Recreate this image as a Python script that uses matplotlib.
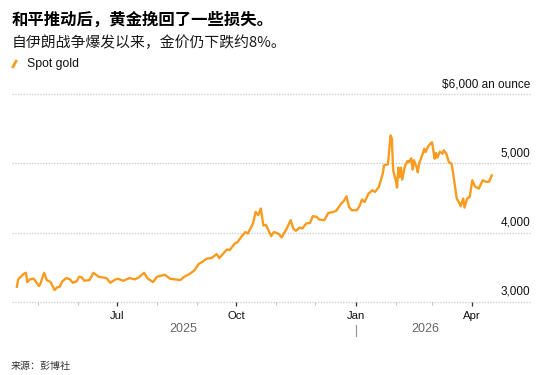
import matplotlib
matplotlib.use("Agg")
import matplotlib.pyplot as plt
import matplotlib.dates as mdates
from matplotlib.lines import Line2D
import pandas as pd

# spot gold, $/oz
dates = [
    "2025-04-15", "2025-04-16", "2025-04-20", "2025-04-22", "2025-04-23", "2025-04-25", "2025-04-28",
    "2025-05-02", "2025-05-03", "2025-05-06", "2025-05-08", "2025-05-11", "2025-05-14", "2025-05-16",
    "2025-05-18", "2025-05-20", "2025-05-23", "2025-05-26", "2025-05-28", "2025-05-31",
    "2025-06-02", "2025-06-04", "2025-06-06", "2025-06-10", "2025-06-13", "2025-06-17", "2025-06-23",
    "2025-06-26", "2025-06-30",
    "2025-07-02", "2025-07-06", "2025-07-11", "2025-07-15", "2025-07-18", "2025-07-22", "2025-07-25",
    "2025-07-29",
    "2025-08-01", "2025-08-07", "2025-08-11", "2025-08-15", "2025-08-19", "2025-08-22", "2025-08-26",
    "2025-08-30",
    "2025-09-02", "2025-09-05", "2025-09-08", "2025-09-12", "2025-09-16", "2025-09-18", "2025-09-22",
    "2025-09-24", "2025-09-26", "2025-09-30",
    "2025-10-02", "2025-10-05", "2025-10-08", "2025-10-10", "2025-10-14", "2025-10-16", "2025-10-18",
    "2025-10-20", "2025-10-22", "2025-10-24", "2025-10-27", "2025-10-28", "2025-10-30",
    "2025-11-01", "2025-11-03", "2025-11-05", "2025-11-09", "2025-11-12", "2025-11-14", "2025-11-16",
    "2025-11-19", "2025-11-21", "2025-11-24", "2025-11-27", "2025-11-29",
    "2025-12-02", "2025-12-04", "2025-12-08", "2025-12-11", "2025-12-14", "2025-12-17", "2025-12-21",
    "2025-12-23", "2025-12-25", "2025-12-27", "2025-12-29",
    "2026-01-02", "2026-01-04", "2026-01-06", "2026-01-08", "2026-01-11", "2026-01-14", "2026-01-16",
    "2026-01-19", "2026-01-22", "2026-01-23", "2026-01-26", "2026-01-28", "2026-01-29", "2026-01-30",
    "2026-02-01", "2026-02-02", "2026-02-03", "2026-02-04", "2026-02-05", "2026-02-06", "2026-02-08",
    "2026-02-10", "2026-02-11", "2026-02-13", "2026-02-14", "2026-02-15", "2026-02-17", "2026-02-18",
    "2026-02-19", "2026-02-22", "2026-02-23", "2026-02-24", "2026-02-26", "2026-02-28",
    "2026-03-01", "2026-03-03", "2026-03-04", "2026-03-05", "2026-03-07", "2026-03-09", "2026-03-10",
    "2026-03-12", "2026-03-14", "2026-03-16", "2026-03-18", "2026-03-20", "2026-03-22", "2026-03-23",
    "2026-03-25", "2026-03-26", "2026-03-28", "2026-03-30",
    "2026-04-01", "2026-04-03", "2026-04-06", "2026-04-09", "2026-04-12", "2026-04-14", "2026-04-16",
]
gold = [
    3216, 3323, 3400, 3418, 3284, 3323, 3332,
    3226, 3255, 3418, 3313, 3284, 3169, 3207, 3216, 3294, 3342, 3323, 3274, 3294,
    3361, 3352, 3303, 3313, 3418, 3361, 3342, 3274, 3323,
    3332, 3303, 3342, 3323, 3352, 3418, 3332, 3284,
    3361, 3390, 3332, 3323, 3313, 3361, 3400, 3457,
    3544, 3577, 3620, 3631, 3688, 3631, 3717, 3756, 3746, 3843,
    3861, 3938, 4006, 3987, 4131, 4299, 4251, 4348, 4102, 4111, 3987, 3948, 4006,
    3996, 3977, 3929, 4059, 4179, 4059, 4025, 4073, 4059, 4131, 4140, 4237,
    4227, 4189, 4179, 4284, 4294, 4313, 4420, 4457, 4525, 4371, 4323,
    4323, 4381, 4478, 4443, 4564, 4612, 4588, 4660, 4853, 4973, 4987, 5405, 5358, 4900,
    4756, 4651, 4939, 4804, 4939, 4766, 4958, 5035, 5016, 5074, 4911, 5045, 4948, 4872,
    4997, 5150, 5214, 5164, 5247, 5294,
    5304, 5069, 5150, 5083, 5170, 5141, 5189, 5141, 5016, 4997, 4756, 4492, 4429, 4381,
    4492, 4362, 4492, 4515,
    4756, 4670, 4636, 4756, 4732, 4737, 4828,
]
y_ticks = [3000, 4000, 5000, 6000]
y_labels = ["3,000", "4,000", "5,000", "$6,000 an ounce"]
years = ["2025", "2026"]

title = "和平推动后，黄金挽回了一些损失。"
subtitle = "自伊朗战争爆发以来，金价仍下跌约8%。"
legend_label = "Spot gold"
source = "来源：彭博社"

ORANGE = "#f89b1f"
GRID = "#cfcfcf"
CJK = ["Noto Sans CJK SC", "DejaVu Sans"]
LAT = ["Liberation Sans", "DejaVu Sans"]

W, H = 554, 375
fig = plt.figure(figsize=(W / 100, H / 100), dpi=100)


def fx(px):
    return px / W


def fy(py):
    return 1 - py / H


left_px, right_px, top_px, bot_px = 11.7, 495, 94.3, 301.7
ax = fig.add_axes([fx(left_px), fy(bot_px), (right_px - left_px) / W, (bot_px - top_px) / H])

d = pd.to_datetime(dates)
ax.plot(d, gold, color=ORANGE, lw=1.7, solid_joinstyle="round", zorder=3)

x0 = pd.Timestamp("2025-04-11")
x1 = pd.Timestamp("2026-04-18 12:00")
ax.set_xlim(x0, x1)
ax.set_ylim(3000, 6000)

for s in ax.spines.values():
    s.set_visible(False)
ax.set_yticks([])

# dotted gridlines run on under the value labels at the right
grid_end = (530 - left_px) / (right_px - left_px)
for v, lab in zip(y_ticks, y_labels):
    ax.axhline(v, xmin=0, xmax=grid_end, clip_on=False, color=GRID, lw=1.0,
               ls=(0, (1, 1)), zorder=1)
    ax.annotate(lab, xy=(grid_end, v), xycoords=("axes fraction", "data"),
                xytext=(0, 7), textcoords="offset points", ha="right", va="center",
                fontsize=8.5, family=LAT, color="#111111", annotation_clip=False)

ax.xaxis.set_major_locator(mdates.MonthLocator(bymonth=[1, 4, 7, 10]))
ax.xaxis.set_major_formatter(mdates.DateFormatter("%b"))
ax.xaxis.set_minor_locator(mdates.MonthLocator())
ax.tick_params(axis="x", which="major", length=3, width=0.9, color="#333333",
               pad=3.5, labelsize=8.2, labelcolor="#111111")
ax.tick_params(axis="x", which="minor", length=2.2, width=0.8, color="#c4c4c4")
for t in ax.get_xticklabels():
    t.set_family(LAT)

# year labels + divider
jan = pd.Timestamp("2026-01-01")
centers = [x0 + (jan - x0) / 2, jan + (x1 - jan) / 2]
xt = ax.get_xaxis_transform()
for c, yr in zip(centers, years):
    ax.text(c, -0.133, yr, transform=xt, ha="center", va="center", fontsize=9,
            family=LAT, color="#666666", clip_on=False)
ax.plot([jan, jan], [-0.113, -0.165], transform=xt, color="#999999", lw=0.9, clip_on=False)

# header
fig.text(fx(11.7), fy(19.5), title, fontsize=11.8, fontweight="bold", family=CJK,
         color="#000000", va="center")
fig.text(fx(11.7), fy(43), subtitle, fontsize=10.7, family=CJK, color="#1a1a1a", va="center")
fig.add_artist(Line2D([fx(12.3), fx(16.7)], [fy(68), fy(60)], transform=fig.transFigure,
                      color=ORANGE, lw=2.0, solid_capstyle="butt"))
fig.text(fx(27.3), fy(63.5), legend_label, fontsize=8.8, family=LAT, color="#111111", va="center")

fig.text(fx(10.7), fy(365.5), source, fontsize=7.2, family=CJK, color="#333333", va="center")

fig.savefig("out.png", dpi=100)
